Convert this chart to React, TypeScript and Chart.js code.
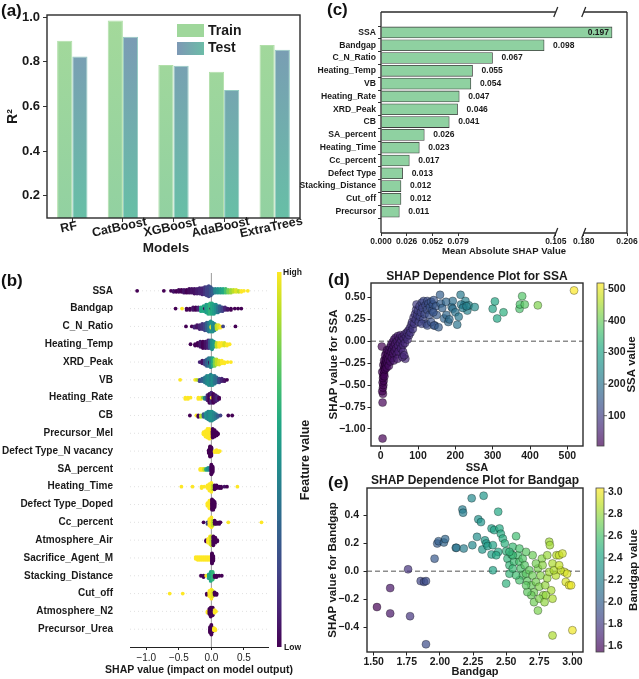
import React, { useRef, useEffect } from 'react';
import { Chart, registerables } from 'chart.js';
import type { ChartConfiguration, Plugin } from 'chart.js';

Chart.register(...registerables);

const FONT = "'Liberation Sans', Arial, Helvetica, sans-serif";
Chart.defaults.font.family = FONT;
Chart.defaults.color = '#1a1a1a';

// ---------- (a) model R2 ----------
const models = ['RF', 'CatBoost', 'XGBoost', 'AdaBoost', 'ExtraTrees'];
const trainR2 = [0.895, 0.985, 0.786, 0.756, 0.876];
const testR2 = [0.824, 0.913, 0.783, 0.674, 0.854];
const r2Ticks = [0.2, 0.4, 0.6, 0.8, 1.0];

// ---------- (c) mean |SHAP| ----------
const shapFeatures = ['SSA', 'Bandgap', 'C_N_Ratio', 'Heating_Temp', 'VB', 'Heating_Rate', 'XRD_Peak', 'CB',
  'SA_percent', 'Heating_Time', 'Cc_percent', 'Defect Type', 'Stacking_Distance', 'Cut_off', 'Precursor'];
const meanAbsShap = [0.197, 0.098, 0.067, 0.055, 0.054, 0.047, 0.046, 0.041, 0.026, 0.023, 0.017, 0.013, 0.012, 0.012, 0.011];
const cTickLabels = ['0.000', '0.026', '0.052', '0.079', '0.105', '0.180', '0.206'];
const cTickAt = [0, 0.01545, 0.0309, 0.0463, 0.105, 0.18, 0.206];
const BRK_LO = 0.105;
const BRK_HI = 0.18;
const BRK_GAP = 0.0168;
const brk = (v: number) => (v <= BRK_LO ? v : BRK_LO + BRK_GAP + (v - BRK_HI));

// ---------- (b) beeswarm: [shap value, feature value 0..1, count] ----------
const swSSA = [[-1.14, 0, 1], [-0.73, 0, 1], [-0.62, 0, 1], [-0.58, 0.05, 2], [-0.54, 0, 2], [-0.5, 0.02, 3], [-0.46, 0, 3],
  [-0.42, 0.05, 4], [-0.38, 0, 4], [-0.34, 0.03, 5], [-0.3, 0.05, 5], [-0.26, 0.05, 6], [-0.22, 0.08, 6], [-0.18, 0.1, 7],
  [-0.14, 0.1, 8], [-0.1, 0.15, 9], [-0.07, 0.2, 10], [-0.04, 0.2, 12], [-0.01, 0.25, 10], [0.02, 0.3, 6], [0.06, 0.45, 5],
  [0.1, 0.5, 5], [0.14, 0.55, 5], [0.18, 0.6, 5], [0.22, 0.7, 5], [0.26, 0.8, 4], [0.3, 0.85, 4], [0.34, 0.9, 3],
  [0.38, 0.95, 3], [0.42, 0.9, 2], [0.46, 1, 2], [0.5, 1, 1], [0.56, 1, 1]];
const swBandgap = [[-0.55, 0, 1], [-0.45, 1, 1], [-0.38, 0, 2], [-0.33, 0, 2], [-0.28, 0.05, 3], [-0.24, 0, 3], [-0.2, 0.1, 3],
  [-0.16, 0.6, 4], [-0.12, 0.6, 5], [-0.1, 0, 1], [-0.08, 0.55, 7], [-0.05, 0.6, 8], [-0.02, 0.65, 9], [0.0, 0, 1], [0.01, 0.6, 9],
  [0.04, 0.55, 8], [0.07, 0.5, 7], [0.1, 0.4, 6], [0.13, 0.3, 5], [0.17, 0.2, 4], [0.21, 0.1, 3], [0.25, 0.05, 2],
  [0.3, 0, 2], [0.36, 0, 1], [0.41, 0, 1], [0.46, 0, 1]];
const swCN = [[-0.39, 0, 1], [-0.3, 0, 1], [-0.26, 0.1, 2], [-0.22, 0.05, 3], [-0.18, 0.1, 4], [-0.14, 0.15, 5], [-0.1, 0.2, 6],
  [-0.07, 0.3, 7], [-0.04, 0.4, 8], [-0.01, 0.5, 9], [0.0, 1, 2], [0.02, 0.5, 8], [0.05, 0.45, 6], [0.08, 0.9, 4],
  [0.11, 0.95, 3], [0.14, 1, 2], [0.18, 0.2, 1], [0.37, 0, 1]];
const swHTemp = [[-0.32, 0, 1], [-0.25, 0, 2], [-0.21, 0, 3], [-0.17, 0.05, 5], [-0.13, 0, 6], [-0.09, 0.05, 6], [-0.05, 0.1, 7],
  [-0.02, 0.3, 7], [0.01, 0.5, 8], [0.04, 0.55, 5], [0.08, 0.9, 4], [0.12, 1, 4], [0.16, 1, 3], [0.2, 0.95, 3], [0.24, 1, 2], [0.28, 1, 1]];
const swXRD = [[-0.18, 0.1, 1], [-0.14, 0.05, 3], [-0.1, 0.2, 4], [-0.07, 0.3, 6], [-0.04, 0.4, 7], [-0.02, 0, 2], [-0.01, 0.45, 8],
  [0.02, 0.6, 7], [0.05, 0.8, 6], [0.08, 0.9, 5], [0.12, 0.95, 4], [0.16, 1, 3], [0.2, 1, 2], [0.25, 1, 1], [0.3, 1, 1]];
const swVB = [[-0.48, 1, 1], [-0.25, 1, 1], [-0.22, 0.9, 1], [-0.18, 0.2, 2], [-0.14, 0.3, 3], [-0.1, 0.4, 5], [-0.07, 0.45, 7],
  [-0.04, 0.5, 8], [-0.01, 0.45, 9], [0.02, 0.5, 8], [0.05, 0.4, 7], [0.08, 0.35, 5], [0.12, 0.2, 4], [0.16, 0.1, 3], [0.2, 0.05, 2], [0.24, 0, 1]];
const swHRate = [[-0.4, 1, 2], [-0.36, 1, 2], [-0.32, 1, 1], [-0.2, 1, 2], [-0.16, 1, 2], [-0.13, 0.8, 1], [-0.1, 0.4, 2],
  [-0.06, 0.1, 5], [-0.03, 0, 8], [0.0, 0.1, 9], [0.005, 1, 1], [0.03, 0, 8], [0.06, 0.05, 6], [0.09, 0.1, 4], [0.12, 0, 2]];
const swCB = [[-0.33, 0, 1], [-0.23, 1, 1], [-0.2, 0, 2], [-0.16, 0.9, 2], [-0.12, 0.3, 3], [-0.08, 0.5, 5], [-0.05, 0.45, 7],
  [-0.02, 0.5, 8], [0.01, 0.5, 8], [0.04, 0.45, 6], [0.07, 0.4, 4], [0.1, 0.3, 2], [0.14, 0.2, 1], [0.26, 0, 1], [0.32, 0, 1]];
const swMel = [[-0.12, 1, 3], [-0.09, 1, 6], [-0.06, 1, 9], [-0.03, 1, 10], [-0.01, 1, 8], [0.02, 0, 9], [0.05, 0, 7], [0.08, 0, 4], [0.1, 0, 2]];
const swNvac = [[-0.04, 0, 4], [-0.02, 0, 12], [0.0, 0, 10], [0.05, 1, 2], [0.08, 1, 3], [0.11, 1, 2], [0.13, 1, 1]];
const swSAp = [[-0.17, 1, 2], [-0.14, 1, 2], [-0.11, 0.9, 2], [-0.08, 0.6, 2], [-0.05, 0.5, 3], [-0.02, 0.4, 3], [0.0, 0, 10], [0.02, 0, 6]];
const swHTime = [[-0.46, 1, 1], [-0.29, 1, 1], [-0.15, 1, 2], [-0.11, 1, 1], [-0.06, 1, 3], [-0.03, 1, 6], [0.0, 1, 8], [0.02, 0.9, 4],
  [0.05, 0, 4], [0.08, 0, 3], [0.12, 0, 2], [0.15, 0, 2], [0.2, 0.05, 1], [0.24, 0, 1], [0.4, 1, 1]];
const swDoped = [[-0.06, 1, 3], [-0.03, 1, 7], [-0.01, 1, 6], [0.01, 0, 9], [0.03, 0, 8], [0.05, 0, 5]];
const swCc = [[-0.12, 0, 1], [-0.06, 0.2, 2], [-0.03, 1, 5], [0.0, 1, 7], [0.02, 0.9, 4], [0.05, 0, 3], [0.08, 0, 2], [0.12, 0, 2],
  [0.14, 0, 1], [0.26, 1, 1], [0.77, 1, 1]];
const swAir = [[-0.08, 0, 2], [-0.05, 1, 4], [-0.02, 1, 7], [0.0, 0.9, 8], [0.03, 0, 8], [0.06, 0, 5], [0.09, 0, 2]];
const swSacM = [[-0.24, 1, 3], [-0.21, 1, 4], [-0.18, 1, 4], [-0.15, 1, 4], [-0.12, 1, 4], [-0.09, 1, 4], [-0.06, 1, 4], [-0.03, 1, 4],
  [0.01, 0, 12], [0.03, 0, 6]];
const swStack = [[-0.16, 0, 1], [-0.12, 0, 2], [-0.08, 1, 1], [-0.04, 0.6, 4], [-0.01, 0.6, 8], [0.02, 0.65, 7], [0.05, 0, 2],
  [0.08, 0, 2], [0.12, 0, 1], [0.16, 0, 1]];
const swCut = [[-0.64, 1, 1], [-0.44, 1, 1], [-0.07, 0, 2], [-0.03, 1, 5], [0.0, 1, 8], [0.02, 0.95, 5], [0.05, 0, 3], [0.08, 0, 2]];
const swN2 = [[-0.06, 1, 2], [-0.03, 0, 5], [-0.01, 0, 8], [0.02, 0, 7], [0.05, 1, 3], [0.07, 1, 1]];
const swUrea = [[-0.02, 0, 6], [0.0, 0, 10], [0.02, 0, 4], [0.04, 1, 3], [0.06, 1, 2]];

const swarmNames = ['SSA', 'Bandgap', 'C_N_Ratio', 'Heating_Temp', 'XRD_Peak', 'VB', 'Heating_Rate', 'CB', 'Precursor_Mel',
  'Defect Type_N vacancy', 'SA_percent', 'Heating_Time', 'Defect Type_Doped', 'Cc_percent', 'Atmosphere_Air',
  'Sacrifice_Agent_M', 'Stacking_Distance', 'Cut_off', 'Atmosphere_N2', 'Precursor_Urea'];
const swarmRows = [swSSA, swBandgap, swCN, swHTemp, swXRD, swVB, swHRate, swCB, swMel, swNvac, swSAp, swHTime,
  swDoped, swCc, swAir, swSacM, swStack, swCut, swN2, swUrea];
const swarmTicks = [-1.0, -0.5, 0.0, 0.5];

// ---------- (d) SSA dependence ----------
const ssaValue = [5, 5, 6, 4, 6, 7, 5, 8, 6, 7, 9, 4, 8, 10, 3, 7, 11, 9, 13, 12, 15, 17, 10, 12,
  12, 14, 15, 16, 18, 18, 20, 20, 22, 22, 24, 25, 26, 28, 28, 30, 31, 32, 34, 35, 36, 38, 39, 40, 42, 43,
  44, 46, 47, 48, 50, 52, 53, 55, 56, 58, 60, 60, 62, 64, 65, 66, 68, 70, 72, 74, 76, 78, 80, 82, 35, 45, 58, 63,
  84, 86, 88, 90, 92, 94, 95, 96, 98, 100, 102, 104, 105, 108, 110, 112, 114, 115, 118, 120, 122, 124, 125, 128,
  130, 132, 135, 138, 140, 142, 145, 148, 150, 110, 125, 135,
  141, 143, 155, 159, 161, 170, 176, 181, 184, 190, 193, 193, 200, 205, 209, 214, 223, 227, 232, 236, 252, 215, 220, 230, 165, 175,
  300, 306, 312, 329, 372, 379, 373, 386, 421, 518];
const ssaShap = [-1.11, -0.7, -0.6, -0.57, -0.53, -0.5, -0.47, -0.45, -0.42, -0.39, -0.37, -0.35, -0.33, -0.3, -0.06, -0.27, -0.25, -0.22, -0.2, -0.16, -0.13, -0.1, -0.4, -0.28,
  -0.32, -0.26, -0.22, -0.3, -0.18, -0.25, -0.14, -0.21, -0.1, -0.28, -0.17, -0.07, -0.23, -0.12, -0.04, -0.19, -0.09, -0.01, -0.14, -0.06, 0.02, -0.11, -0.03, 0.04, -0.08, -0.15,
  0.0, 0.06, -0.05, -0.12, 0.03, -0.02, 0.07, -0.08, 0.01, 0.05, -0.04, -0.12, 0.03, 0.08, -0.02, -0.2, 0.05, 0.1, 0.02, 0.12, 0.07, 0.15, 0.1, 0.19, -0.22, -0.2, -0.18, -0.16,
  0.22, 0.14, 0.27, 0.2, 0.31, 0.25, 0.36, 0.42, 0.3, 0.35, 0.22, 0.4, 0.28, 0.33, 0.44, 0.38, 0.25, 0.46, 0.31, 0.41, 0.2, 0.36, 0.46, 0.43,
  0.3, 0.39, 0.45, 0.35, 0.42, 0.47, 0.18, 0.4, 0.3, 0.2, 0.18, 0.22,
  0.33, 0.18, 0.16, 0.53, 0.43, 0.26, 0.3, 0.22, 0.25, 0.39, 0.46, 0.37, 0.33, 0.19, 0.28, 0.53, 0.41, 0.46, 0.35, 0.41, 0.39, 0.42, 0.38, 0.4, 0.38, 0.45,
  0.37, 0.455, 0.26, 0.33, 0.37, 0.515, 0.42, 0.42, 0.41, 0.58];
const ssaTicksX = [0, 100, 200, 300, 400, 500];
const ssaTicksY = [-1.0, -0.75, -0.5, -0.25, 0.0, 0.25, 0.5];
const ssaBarTicks = [100, 200, 300, 400, 500];

// ---------- (e) Bandgap dependence ----------
const bgValue = [1.525, 1.625, 1.625, 1.76, 1.775, 1.855, 1.88, 1.895, 1.895, 1.96, 1.98, 1.99, 2.03, 2.04, 2.12, 2.125,
  2.17, 2.175, 2.18, 2.24, 2.245, 2.29, 2.31, 2.33, 2.32, 2.28, 2.34, 2.35, 2.36, 2.4, 2.44, 2.39, 2.41, 2.45, 2.46,
  2.39, 2.4, 2.475, 2.49, 2.5, 2.44, 2.425, 2.51, 2.525, 2.5, 2.525, 2.54, 2.55, 2.575, 2.56, 2.59, 2.6, 2.61, 2.625,
  2.64, 2.625, 2.65, 2.66, 2.675, 2.69, 2.7, 2.71, 2.725, 2.74, 2.75, 2.76, 2.77, 2.78, 2.74, 2.795, 2.81, 2.825, 2.84,
  2.85, 2.875, 2.825, 2.83, 2.85, 2.85, 2.88, 2.9, 2.925, 2.94, 2.95, 2.96, 2.975, 2.99, 3.0, 2.91, 2.86, 2.69, 2.66,
  2.65, 2.6, 2.575, 2.55, 2.71, 2.75, 2.79, 2.8, 2.725, 2.7, 2.65, 2.6, 2.55, 2.525, 2.81, 2.775, 2.9];
const bgShap = [-0.255, -0.12, -0.3, 0.014, -0.32, -0.07, -0.076, -0.07, -0.52, 0.09, 0.198, 0.214, 0.205, 0.229, 0.167, 0.167,
  0.44, 0.417, 0.162, 0.52, 0.186, 0.37, 0.35, 0.538, 0.155, 0.245, 0.22, 0.198, 0.18, 0.186, 0.424, 0.305, 0.293, 0.305, 0.267,
  0.12, 0.007, 0.233, 0.198, 0.143, 0.138, 0.114, 0.09, 0.043, -0.088, -0.017, 0.12, 0.174, 0.25, 0.067, 0.114, 0.067, 0.02, 0.09,
  0.043, -0.03, -0.017, -0.07, 0.007, -0.1, -0.03, -0.15, -0.076, 0.02, -0.11, -0.03, 0.09, -0.17, -0.28, -0.1, -0.05, -0.005, -0.136,
  0.055, -0.03, 0.21, 0.186, -0.195, -0.457, 0.114, 0.114, 0.126, -0.005, -0.076, -0.017, -0.1, -0.1, -0.42, 0.007, 0.007, -0.17, -0.148,
  -0.1, -0.064, -0.029, 0.019, -0.22, -0.195, -0.22, -0.17, 0.055, 0.114, 0.138, 0.162, 0.114, 0.138, 0.114, 0.043, 0.043];
const bgTicksX = [1.5, 1.75, 2.0, 2.25, 2.5, 2.75, 3.0];
const bgTicksY = [-0.4, -0.2, 0.0, 0.2, 0.4];
const bgBarTicks = [1.6, 1.8, 2.0, 2.2, 2.4, 2.6, 2.8, 3.0];

// ---------- helpers ----------
const VIRIDIS = [[68, 1, 84], [72, 36, 117], [65, 68, 135], [53, 95, 141], [42, 120, 142], [33, 145, 140],
  [34, 168, 132], [68, 191, 112], [122, 209, 81], [189, 223, 38], [253, 231, 37]];
function viridis(t: number, a = 1) {
  const u = Math.min(1, Math.max(0, t)) * 10;
  const i = Math.min(9, Math.floor(u));
  const f = u - i;
  const c = VIRIDIS[i].map((v, k) => Math.round(v + (VIRIDIS[i + 1][k] - v) * f));
  return `rgba(${c[0]},${c[1]},${c[2]},${a})`;
}
const bold = (size: number) => ({ family: FONT, size, weight: 'bold' as const });
const fmt = (v: number, d: number) => (v < -1e-9 ? '\u2212' : '') + Math.abs(v).toFixed(d);
const setTicks = (vals: number[]) => (s: any) => { s.ticks = vals.map((value) => ({ value })); };

// shap-style beeswarm stacking
function swarm(rows: number[][]) {
  const xs: number[] = [];
  const cs: number[] = [];
  rows.forEach(([v, c, n]) => { for (let k = 0; k < n; k++) { xs.push(v); cs.push(c); } });
  const lo = Math.min(...xs);
  const hi = Math.max(...xs);
  const q = xs.map((v) => Math.round((100 * (v - lo)) / (hi - lo + 1e-8)));
  const order = xs.map((_, i) => i).sort((a, b) => q[a] - q[b] || a - b);
  const ys = new Array(xs.length).fill(0);
  let layer = 0;
  let last = -1;
  for (const i of order) {
    if (q[i] !== last) layer = 0;
    ys[i] = Math.ceil(layer / 2) * ((layer % 2) * 2 - 1);
    layer++;
    last = q[i];
  }
  const m = Math.max(...ys.map((y) => y + 1));
  return xs.map((x, i) => ({ x, y: ys[i] * 0.9 * (0.4 / m), c: cs[i] }));
}

const framePlugin: Plugin = {
  id: 'frame',
  afterDraw(chart) {
    const { ctx, chartArea: a } = chart;
    ctx.save();
    ctx.strokeStyle = '#2b2b2b';
    ctx.lineWidth = 1.4;
    ctx.strokeRect(a.left, a.top, a.right - a.left, a.bottom - a.top);
    ctx.restore();
  },
};

function depDecor(title: string, titleY: number, cb: { dx: number; w: number; vmin: number; vmax: number; ticks: number[]; digits: number; label: string; labelX: number }): Plugin {
  return {
    id: 'depDecor',
    beforeDatasetsDraw(chart) {
      const { ctx, chartArea: a } = chart;
      const y0 = chart.scales.y.getPixelForValue(0);
      ctx.save();
      ctx.strokeStyle = '#8c8c8c';
      ctx.lineWidth = 1.4;
      ctx.setLineDash([5, 3]);
      ctx.beginPath();
      ctx.moveTo(a.left, y0);
      ctx.lineTo(a.right, y0);
      ctx.stroke();
      ctx.restore();
    },
    afterDraw(chart) {
      const { ctx, chartArea: a } = chart;
      ctx.save();
      ctx.fillStyle = '#1a1a1a';
      ctx.font = `bold 12px ${FONT}`;
      ctx.textAlign = 'center';
      ctx.textBaseline = 'middle';
      ctx.fillText(title, (a.left + a.right) / 2, titleY);
      const x = a.right + cb.dx;
      const g = ctx.createLinearGradient(0, a.bottom, 0, a.top);
      for (let k = 0; k <= 10; k++) g.addColorStop(k / 10, viridis(k / 10, 0.7));
      ctx.fillStyle = '#fff';
      ctx.fillRect(x, a.top, cb.w, a.bottom - a.top);
      ctx.fillStyle = g;
      ctx.fillRect(x, a.top, cb.w, a.bottom - a.top);
      ctx.strokeStyle = '#444';
      ctx.lineWidth = 0.8;
      ctx.strokeRect(x, a.top, cb.w, a.bottom - a.top);
      ctx.font = `bold 10.5px ${FONT}`;
      ctx.textAlign = 'left';
      ctx.fillStyle = '#1a1a1a';
      cb.ticks.forEach((v) => {
        const y = a.bottom - ((v - cb.vmin) / (cb.vmax - cb.vmin)) * (a.bottom - a.top);
        ctx.beginPath();
        ctx.moveTo(x + cb.w, y);
        ctx.lineTo(x + cb.w + 3, y);
        ctx.stroke();
        ctx.fillText(v.toFixed(cb.digits), x + cb.w + 4, y);
      });
      ctx.translate(cb.labelX, (a.top + a.bottom) / 2);
      ctx.rotate(-Math.PI / 2);
      ctx.textAlign = 'center';
      ctx.font = `bold 11.5px ${FONT}`;
      ctx.fillText(cb.label, 0, 0);
      ctx.restore();
    },
  };
}

// ---------- (a) config ----------
const trainFill = (c: any) => {
  const a = c.chart.chartArea;
  if (!a) return '#9bd69c';
  const g = c.chart.ctx.createLinearGradient(0, a.top, 0, a.bottom);
  g.addColorStop(0, '#a4d99a');
  g.addColorStop(1, '#92d1a1');
  return g;
};
const testFill = (c: any) => {
  const a = c.chart.chartArea;
  if (!a) return '#74a9b0';
  const g = c.chart.ctx.createLinearGradient(0, a.top, 0, a.bottom);
  g.addColorStop(0, '#7d97b6');
  g.addColorStop(1, '#67bfa6');
  return g;
};

const modelAxisPlugin: Plugin = {
  id: 'modelAxis',
  afterDraw(chart) {
    const { ctx, chartArea: a } = chart;
    const xs = chart.scales.x;
    ctx.save();
    ctx.fillStyle = '#1a1a1a';
    ctx.font = `bold 12.5px ${FONT}`;
    ctx.textAlign = 'center';
    ctx.textBaseline = 'middle';
    models.forEach((m, i) => {
      ctx.save();
      ctx.translate(xs.getPixelForValue(i) - 3.5, a.bottom + 9.5);
      ctx.rotate((-12 * Math.PI) / 180);
      ctx.fillText(m, 0, 0);
      ctx.restore();
    });
    ctx.font = `bold 13.5px ${FONT}`;
    ctx.fillText('Models', 166, 248);
    // legend
    ctx.fillStyle = '#9fd79b';
    ctx.fillRect(177, 24, 27, 13);
    const g = ctx.createLinearGradient(177, 0, 204, 0);
    g.addColorStop(0, '#7d98b5');
    g.addColorStop(1, '#6cbca7');
    ctx.fillStyle = g;
    ctx.fillRect(177, 42, 27, 13);
    ctx.fillStyle = '#1a1a1a';
    ctx.textAlign = 'left';
    ctx.font = `bold 14px ${FONT}`;
    ctx.fillText('Train', 208, 31);
    ctx.fillText('Test', 208, 48.5);
    ctx.restore();
  },
};

const configA: ChartConfiguration<'bar'> = {
  type: 'bar',
  data: {
    labels: models,
    datasets: [
      { label: 'Train', data: trainR2, backgroundColor: trainFill, borderColor: 'rgba(168,220,160,0.9)', borderWidth: 1, categoryPercentage: 0.6, barPercentage: 1 },
      { label: 'Test', data: testR2, backgroundColor: testFill, borderColor: 'rgba(120,190,178,0.8)', borderWidth: 1, categoryPercentage: 0.6, barPercentage: 1 },
    ],
  },
  options: {
    animation: false,
    responsive: true,
    maintainAspectRatio: false,
    layout: { padding: { top: 15, right: 18, left: 0, bottom: 0 } },
    plugins: { legend: { display: false }, tooltip: { enabled: false } },
    scales: {
      x: {
        grid: { drawOnChartArea: false, offset: false, tickLength: 4, color: '#333' },
        border: { display: false },
        ticks: { display: false },
        afterFit: (s: any) => { s.height = 40; },
      },
      y: {
        min: 0.1,
        max: 1.01,
        afterBuildTicks: setTicks(r2Ticks),
        ticks: { font: bold(13), padding: 3, color: '#1a1a1a', callback: (v: any) => Number(v).toFixed(1) },
        grid: { drawOnChartArea: false, tickLength: 4, color: '#333' },
        border: { display: false },
        title: { display: true, text: 'R²', font: bold(14), color: '#1a1a1a', padding: { top: 5, bottom: 0 } },
        afterFit: (s: any) => { s.width = 47; },
      },
    },
  },
  plugins: [framePlugin, modelAxisPlugin],
};

// ---------- (c) config ----------
const shapBarPlugin: Plugin = {
  id: 'shapBar',
  afterDatasetsDraw(chart) {
    const ctx = chart.ctx;
    const meta = chart.getDatasetMeta(0);
    ctx.save();
    ctx.font = `bold 8.5px ${FONT}`;
    ctx.fillStyle = '#1a1a1a';
    ctx.textBaseline = 'middle';
    meta.data.forEach((bar: any, i: number) => {
      const txt = meanAbsShap[i].toFixed(3);
      if (i === 0) {
        ctx.textAlign = 'right';
        ctx.fillText(txt, bar.x - 3, bar.y);
      } else {
        ctx.textAlign = 'left';
        ctx.fillText(txt, bar.x + 9, bar.y);
      }
    });
    ctx.restore();
  },
  afterDraw(chart) {
    const { ctx, chartArea: a } = chart;
    const xs = chart.scales.x;
    const p1 = xs.getPixelForValue(brk(BRK_LO));
    const p2 = xs.getPixelForValue(brk(BRK_HI));
    ctx.save();
    ctx.strokeStyle = '#2b2b2b';
    ctx.lineWidth = 1.3;
    ctx.beginPath();
    [a.top, a.bottom].forEach((y) => {
      ctx.moveTo(a.left, y); ctx.lineTo(p1, y);
      ctx.moveTo(p2, y); ctx.lineTo(a.right, y);
    });
    ctx.moveTo(a.left, a.top); ctx.lineTo(a.left, a.bottom);
    ctx.moveTo(a.right, a.top); ctx.lineTo(a.right, a.bottom);
    ctx.stroke();
    ctx.beginPath();
    [a.top, a.bottom].forEach((y) => {
      [p1, p2].forEach((x) => { ctx.moveTo(x - 2, y + 5); ctx.lineTo(x + 2, y - 5); });
    });
    ctx.stroke();
    ctx.restore();
  },
};

const configC: ChartConfiguration<'bar'> = {
  type: 'bar',
  data: {
    datasets: [{
      data: meanAbsShap.map((v, i) => ({ x: brk(v), y: i })) as any,
      backgroundColor: '#8fd1a1',
      borderColor: '#3d3d3d',
      borderWidth: 0.8,
      barThickness: 11,
    }],
  },
  options: {
    indexAxis: 'y',
    animation: false,
    responsive: true,
    maintainAspectRatio: false,
    layout: { padding: { top: 12, right: 12, left: 0, bottom: 0 } },
    plugins: { legend: { display: false }, tooltip: { enabled: false } },
    scales: {
      x: {
        type: 'linear',
        min: 0,
        max: brk(0.206),
        afterBuildTicks: setTicks(cTickAt.map(brk)),
        ticks: { autoSkip: false, maxRotation: 0, font: bold(8.5), padding: 1, color: '#1a1a1a', callback: (_v: any, i: number) => cTickLabels[i] },
        grid: { drawOnChartArea: false, tickLength: 3, color: '#333' },
        border: { display: false },
        title: { display: true, text: 'Mean Absolute SHAP Value', font: bold(9.5), color: '#1a1a1a', padding: { top: 0, bottom: 5 } },
        afterFit: (s: any) => { s.height = 29; },
      },
      y: {
        type: 'linear',
        reverse: true,
        min: -1.02,
        max: 15.09,
        afterBuildTicks: setTicks(shapFeatures.map((_, i) => i)),
        ticks: { autoSkip: false, font: bold(8.6), padding: 2, color: '#1a1a1a', callback: (v: any) => shapFeatures[v] ?? '' },
        grid: { drawOnChartArea: false, tickLength: 3, color: '#333' },
        border: { display: false },
        afterFit: (s: any) => { s.width = 83; },
      },
    },
  },
  plugins: [shapBarPlugin],
};

// ---------- (b) config ----------
const swarmPts = swarmRows.flatMap((row, r) => swarm(row).map((p) => ({ x: p.x, y: r + p.y, c: p.c })));

const swarmDecor: Plugin = {
  id: 'swarmDecor',
  beforeDatasetsDraw(chart) {
    const { ctx, chartArea: a } = chart;
    const ys = chart.scales.y;
    const xs = chart.scales.x;
    ctx.save();
    ctx.strokeStyle = '#cccccc';
    ctx.lineWidth = 0.6;
    ctx.setLineDash([1, 3]);
    swarmNames.forEach((_, i) => {
      const y = ys.getPixelForValue(i);
      ctx.beginPath();
      ctx.moveTo(a.left, y);
      ctx.lineTo(a.right, y);
      ctx.stroke();
    });
    ctx.setLineDash([]);
    ctx.strokeStyle = '#999999';
    ctx.lineWidth = 1;
    const x0 = xs.getPixelForValue(0);
    ctx.beginPath();
    ctx.moveTo(x0, a.top);
    ctx.lineTo(x0, a.bottom);
    ctx.stroke();
    ctx.restore();
  },
  afterDraw(chart) {
    const { ctx, chartArea: a } = chart;
    const x = a.right + 9;
    const top = a.top - 1;
    const g = ctx.createLinearGradient(0, a.bottom, 0, top);
    for (let k = 0; k <= 10; k++) g.addColorStop(k / 10, viridis(k / 10));
    ctx.save();
    ctx.fillStyle = g;
    ctx.fillRect(x, top, 4.5, a.bottom - top);
    ctx.fillStyle = '#1a1a1a';
    ctx.font = `bold 8.5px ${FONT}`;
    ctx.textAlign = 'left';
    ctx.textBaseline = 'middle';
    ctx.fillText('High', x + 6, top + 0.5);
    ctx.fillText('Low', x + 7, a.bottom + 1);
    // x-axis title, drawn without the scale's width limit
    ctx.textAlign = 'center';
    ctx.font = `bold 10.5px ${FONT}`;
    ctx.fillText('SHAP value (impact on model output)', (a.left + a.right) / 2, a.bottom + 23);
    ctx.translate(306, (a.top + a.bottom) / 2);
    ctx.rotate(-Math.PI / 2);
    ctx.font = `bold 12.5px ${FONT}`;
    ctx.fillText('Feature value', 0, 0);
    ctx.restore();
  },
};

const configB: ChartConfiguration<'scatter'> = {
  type: 'scatter',
  data: {
    datasets: [{
      data: swarmPts.map((p) => ({ x: p.x, y: p.y })),
      pointBackgroundColor: swarmPts.map((p) => viridis(p.c)),
      pointRadius: 1.9,
      pointBorderWidth: 0,
    }],
  },
  options: {
    animation: false,
    responsive: true,
    maintainAspectRatio: false,
    layout: { padding: { top: 7, right: 50, left: 0, bottom: 0 } },
    plugins: { legend: { display: false }, tooltip: { enabled: false } },
    scales: {
      x: {
        min: -1.25,
        max: 0.87,
        afterBuildTicks: setTicks(swarmTicks),
        ticks: { font: { family: FONT, size: 10 }, padding: 2, color: '#222', callback: (v: any) => fmt(Number(v), 1) },
        grid: { drawOnChartArea: false, tickLength: 3, color: '#222' },
        border: { display: true, color: '#222', width: 1 },
        afterFit: (s: any) => { s.height = 32; },
      },
      y: {
        min: -1,
        max: 20,
        reverse: true,
        afterBuildTicks: setTicks(swarmNames.map((_, i) => i)),
        ticks: { autoSkip: false, font: bold(10), padding: 17, color: '#1a1a1a', callback: (v: any) => swarmNames[v] ?? '' },
        grid: { display: false, drawTicks: false },
        border: { display: false },
        afterFit: (s: any) => { s.width = 130; },
      },
    },
  },
  plugins: [swarmDecor],
};

// ---------- (d) config ----------
const SSA_MIN = 4;
const SSA_MAX = 520;
const configD: ChartConfiguration<'scatter'> = {
  type: 'scatter',
  data: {
    datasets: [{
      data: ssaValue.map((x, i) => ({ x, y: ssaShap[i] })),
      pointBackgroundColor: ssaValue.map((x) => viridis((x - SSA_MIN) / (SSA_MAX - SSA_MIN), 0.7)),
      pointBorderColor: 'rgba(0,0,0,0.6)',
      pointBorderWidth: 0.5,
      pointRadius: 4,
    }],
  },
  options: {
    animation: false,
    responsive: true,
    maintainAspectRatio: false,
    layout: { padding: { top: 28, right: 56, left: 0, bottom: 0 } },
    plugins: { legend: { display: false }, tooltip: { enabled: false } },
    scales: {
      x: {
        min: -26,
        max: 542,
        afterBuildTicks: setTicks(ssaTicksX),
        ticks: { font: bold(10.5), padding: 0, color: '#1a1a1a', maxRotation: 0, callback: (v: any) => String(v) },
        grid: { drawOnChartArea: false, tickLength: 3.5, color: '#222' },
        border: { display: false },
        title: { display: true, text: 'SSA', font: bold(11), color: '#1a1a1a', padding: { top: 0, bottom: 2.4 } },
        afterFit: (s: any) => { s.height = 31; },
      },
      y: {
        min: -1.195,
        max: 0.665,
        afterBuildTicks: setTicks(ssaTicksY),
        ticks: { font: bold(10.5), padding: 2, color: '#1a1a1a', callback: (v: any) => fmt(Number(v), 2) },
        grid: { drawOnChartArea: false, tickLength: 3.5, color: '#222' },
        border: { display: false },
        title: { display: true, text: 'SHAP value for SSA', font: bold(11.5), color: '#1a1a1a', padding: { top: 9.1, bottom: 0 } },
        afterFit: (s: any) => { s.width = 53; },
      },
    },
  },
  plugins: [framePlugin, depDecor('SHAP Dependence Plot for SSA', 22, { dx: 14, w: 7, vmin: SSA_MIN, vmax: SSA_MAX, ticks: ssaBarTicks, digits: 0, label: 'SSA value', labelX: 314 })],
};

// ---------- (e) config ----------
const BG_MIN = 1.545;
const BG_MAX = 3.036;
const configE: ChartConfiguration<'scatter'> = {
  type: 'scatter',
  data: {
    datasets: [{
      data: bgValue.map((x, i) => ({ x, y: bgShap[i] })),
      pointBackgroundColor: bgValue.map((x) => viridis((x - BG_MIN) / (BG_MAX - BG_MIN), 0.7)),
      pointBorderColor: 'rgba(0,0,0,0.6)',
      pointBorderWidth: 0.5,
      pointRadius: 4,
    }],
  },
  options: {
    animation: false,
    responsive: true,
    maintainAspectRatio: false,
    layout: { padding: { top: 18, right: 56, left: 0, bottom: 0 } },
    plugins: { legend: { display: false }, tooltip: { enabled: false } },
    scales: {
      x: {
        min: 1.45,
        max: 3.08,
        afterBuildTicks: setTicks(bgTicksX),
        ticks: { font: bold(10.5), padding: 0, color: '#1a1a1a', maxRotation: 0, callback: (v: any) => Number(v).toFixed(2) },
        grid: { drawOnChartArea: false, tickLength: 3.5, color: '#222' },
        border: { display: false },
        title: { display: true, text: 'Bandgap', font: bold(11), color: '#1a1a1a', padding: { top: 0, bottom: 0.4 } },
        afterFit: (s: any) => { s.height = 27; },
      },
      y: {
        min: -0.575,
        max: 0.593,
        afterBuildTicks: setTicks(bgTicksY),
        ticks: { font: bold(10.5), padding: 4.5, color: '#1a1a1a', callback: (v: any) => fmt(Number(v), 1) },
        grid: { drawOnChartArea: false, tickLength: 3.5, color: '#222' },
        border: { display: false },
        title: { display: true, text: 'SHAP value for Bandgap', font: bold(11.5), color: '#1a1a1a', padding: { top: 8.1, bottom: 0 } },
        afterFit: (s: any) => { s.width = 49; },
      },
    },
  },
  plugins: [framePlugin, depDecor('SHAP Dependence Plot for Bandgap', 11, { dx: 13, w: 8, vmin: BG_MIN, vmax: BG_MAX, ticks: bgBarTicks, digits: 1, label: 'Bandgap value', labelX: 316 })],
};

// ---------- components ----------
interface BoxProps {
  config: ChartConfiguration<any>;
  left: number;
  top: number;
  width: number;
  height: number;
}

const ChartBox: React.FC<BoxProps> = ({ config, left, top, width, height }) => {
  const ref = useRef<HTMLCanvasElement>(null);
  useEffect(() => {
    if (!ref.current) return;
    const chart = new Chart(ref.current, config);
    return () => { chart.destroy(); };
  }, [config]);
  return (
    <div style={{ position: 'absolute', left, top, width, height }}>
      <canvas ref={ref} />
    </div>
  );
};

const letter = (text: string, left: number, top: number) => (
  <span style={{ position: 'absolute', left, top, font: `bold 17px ${FONT}`, lineHeight: '17px', color: '#111' }}>{text}</span>
);

export default function App() {
  return (
    <div style={{ position: 'absolute', left: 0, top: 0, width: 639, height: 679, background: '#fff', overflow: 'hidden' }}>
      <ChartBox config={configA} left={0} top={0} width={318} height={258} />
      <ChartBox config={configC} left={298} top={0} width={341} height={262} />
      <ChartBox config={configB} left={0} top={250} width={318} height={429} />
      <ChartBox config={configD} left={318} top={255} width={321} height={222} />
      <ChartBox config={configE} left={318} top={470} width={321} height={209} />
      {letter('(a)', 1, 2)}
      {letter('(b)', 1, 272)}
      {letter('(c)', 327, 1)}
      {letter('(d)', 328, 271)}
      {letter('(e)', 328, 474)}
    </div>
  );
}
